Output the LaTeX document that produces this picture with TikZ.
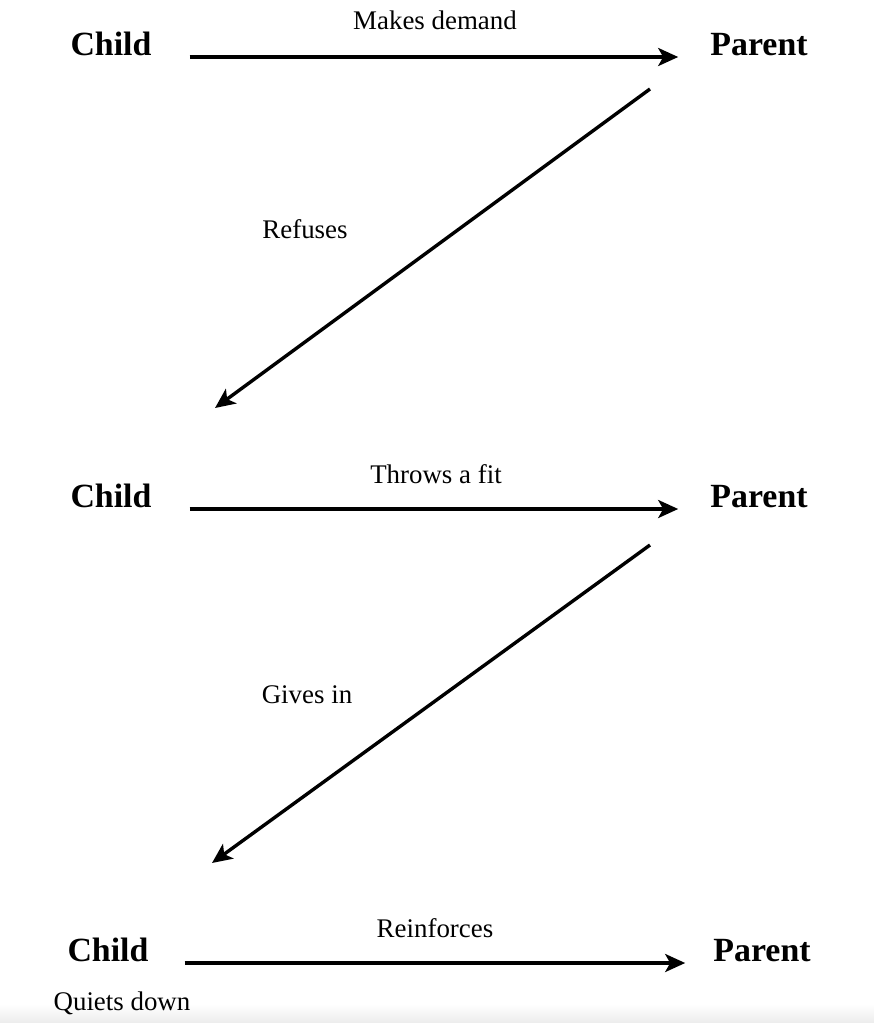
\documentclass[tikz,border=0pt]{standalone}
\usepackage{fontspec}
\setmainfont{Liberation Serif}
\usetikzlibrary{arrows.meta,positioning,calc}
\definecolor{LoopInk}{HTML}{000000}
\definecolor{LoopBand}{HTML}{ECECEC}
\tikzset{
  flow/.style={-{Stealth[length=20bp,width=18bp,inset=5bp]}, line width=3.4bp, draw=LoopInk},
  actor/.style={font=\fontsize{34}{40}\selectfont\bfseries, inner sep=0pt, anchor=base},
  act/.style={font=\fontsize{27}{32}\selectfont, inner sep=0pt, anchor=base},
}

\begin{document}
\begin{tikzpicture}[x=1bp,y=-1bp]
        \useasboundingbox (0,0) rectangle (874,1023);
        \shade[top color=white,bottom color=LoopBand] (0,1004) rectangle (874,1023);
        % first exchange
        \node[actor] (c1) at (111,55) {Child};
        \node[actor] (p1) at (759,55) {Parent};
        \node[act] (m1) at (435,29) {Makes demand};
        \node[act] (r1) at (305,238) {Refuses};
        % second exchange
        \node[actor] (c2) at (111,507) {Child};
        \node[actor] (p2) at (759,507) {Parent};
        \node[act] (m2) at (436,483) {Throws a fit};
        \node[act] (r2) at (307,703) {Gives in};
        % third exchange
        \node[actor] (c3) at (108,961) {Child};
        \node[actor] (p3) at (762,961) {Parent};
        \node[act] (m3) at (435,937) {Reinforces};
        \node[act] (q3) at (122,1010) {Quiets down};
        \draw[flow] ([xshift=38bp,yshift=-2bp]c1.base east) -- ([xshift=-32bp,yshift=-2bp]p1.base west);
        \draw[flow] ([xshift=-109bp,yshift=-34bp]p1.base) -- ([xshift=104bp,yshift=99bp]c2.base);
        \draw[flow] ([xshift=38bp,yshift=-2bp]c2.base east) -- ([xshift=-32bp,yshift=-2bp]p2.base west);
        \draw[flow] ([xshift=-109bp,yshift=-38bp]p2.base) -- ([xshift=104bp,yshift=98bp]c3.base);
        \draw[flow] ([xshift=36bp,yshift=-2bp]c3.base east) -- ([xshift=-28bp,yshift=-2bp]p3.base west);
      \end{tikzpicture}
\end{document}
